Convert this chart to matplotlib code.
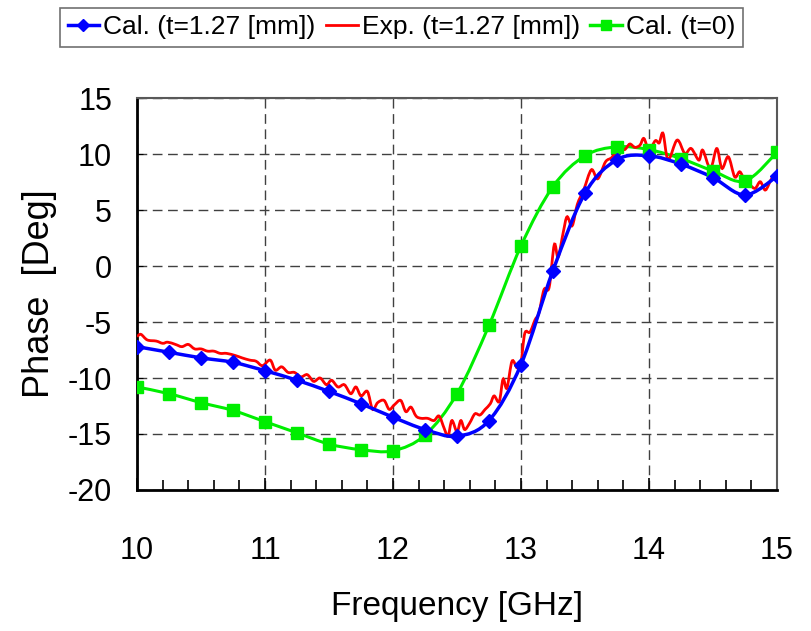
import matplotlib
matplotlib.use('Agg')
import matplotlib.pyplot as plt
from matplotlib.path import Path
from matplotlib.patches import PathPatch
from matplotlib.lines import Line2D
from matplotlib.ticker import MultipleLocator

# ---- data ----
freq_cal = [10.0, 10.25, 10.5, 10.75, 11.0, 11.25, 11.5, 11.75, 12.0, 12.25, 12.5,
            12.75, 13.0, 13.25, 13.5, 13.75, 14.0, 14.25, 14.5, 14.75, 15.0]
phase_cal = [-7.2, -7.7, -8.2, -8.6, -9.35, -10.2, -11.2, -12.3, -13.5, -14.6, -15.2,
             -13.8, -8.8, -0.4, 6.5, 9.5, 9.85, 9.1, 7.9, 6.35, 8.0]
phase_cal0 = [-10.8, -11.4, -12.2, -12.9, -13.9, -14.9, -15.9, -16.4, -16.5, -15.1, -11.4,
              -5.3, 1.8, 7.1, 9.85, 10.65, 10.4, 9.6, 8.5, 7.6, 10.15]

freq_exp = [10.00, 10.03, 10.08, 10.15, 10.20, 10.24, 10.30, 10.35, 10.40, 10.45,
            10.50, 10.55, 10.60, 10.65, 10.70, 10.77, 10.82, 10.88, 10.93, 10.98,
            11.04, 11.08, 11.13, 11.18, 11.23, 11.28, 11.33, 11.38, 11.43, 11.48,
            11.52, 11.57, 11.62, 11.67, 11.71, 11.75, 11.80, 11.84, 11.88, 11.93,
            11.97, 12.01, 12.06, 12.10, 12.14, 12.18, 12.22, 12.27, 12.32, 12.36,
            12.40, 12.43, 12.46, 12.50, 12.53, 12.56, 12.60, 12.64, 12.68, 12.72,
            12.76, 12.79, 12.83, 12.86, 12.89, 12.93, 12.97, 13.00, 13.03, 13.07,
            13.11, 13.14, 13.18, 13.22, 13.26, 13.29, 13.33, 13.36, 13.40, 13.44,
            13.49, 13.55, 13.60, 13.66, 13.71, 13.77, 13.81, 13.85, 13.89, 13.93,
            13.96, 14.00, 14.05, 14.08, 14.11, 14.15, 14.22, 14.28, 14.33, 14.39,
            14.42, 14.48, 14.53, 14.57, 14.62, 14.67, 14.71, 14.75, 14.79, 14.83,
            14.87, 14.91, 14.96, 15.00]
phase_exp = [-6.3, -6.1, -6.6, -6.7, -6.9, -6.8, -7.0, -7.2, -7.0, -7.4,
             -7.4, -7.6, -7.6, -7.8, -7.8, -8.0, -8.2, -8.4, -8.5, -8.9,
             -8.4, -9.3, -9.0, -9.5, -9.5, -9.9, -9.7, -10.3, -10.0, -10.6,
             -10.2, -10.8, -10.6, -11.4, -10.8, -11.6, -11.2, -12.8, -12.2, -12.0,
             -12.8, -12.4, -12.0, -13.0, -12.6, -13.4, -13.6, -13.6, -13.8, -13.4,
             -14.5, -15.2, -13.8, -14.8, -13.8, -14.6, -14.0, -13.2, -13.3, -12.8,
             -12.3, -11.6, -12.1, -10.1, -10.9, -8.5, -9.1, -8.6, -6.0, -5.9,
             -4.8, -4.2, -2.1, -1.9, 1.9, 0.8, 3.0, 4.4, 3.6, 5.5,
             6.8, 8.6, 7.8, 9.3, 9.7, 10.6, 10.4, 10.9, 10.6, 10.8,
             11.4, 10.4, 11.2, 11.0, 11.85, 9.5, 11.25, 10.06, 10.5, 9.46,
             10.35, 8.72, 10.5, 8.72, 9.76, 7.97, 8.42, 7.6, 7.23, 6.94,
             7.53, 6.79, 7.83, 8.0]

labels = ['Cal. (t=1.27 [mm])', 'Exp. (t=1.27 [mm])', 'Cal. (t=0)']

plt.rcParams['font.family'] = ['Liberation Sans', 'DejaVu Sans']
plt.rcParams['axes.unicode_minus'] = False


def smooth_path(xs, ys):
    # bezier through the points, like the excel "smoothed line"
    verts = [(xs[0], ys[0])]
    codes = [Path.MOVETO]
    n = len(xs)
    for i in range(n - 1):
        x0, y0 = xs[max(i - 1, 0)], ys[max(i - 1, 0)]
        x1, y1 = xs[i], ys[i]
        x2, y2 = xs[i + 1], ys[i + 1]
        x3, y3 = xs[min(i + 2, n - 1)], ys[min(i + 2, n - 1)]
        c1 = (x1 + (x2 - x0) / 6.0, y1 + (y2 - y0) / 6.0)
        c2 = (x2 - (x3 - x1) / 6.0, y2 - (y3 - y1) / 6.0)
        verts += [c1, c2, (x2, y2)]
        codes += [Path.CURVE4] * 3
    return Path(verts, codes)


fig = plt.figure(figsize=(8.11, 6.31), dpi=100)
ax = fig.add_axes([0.169, 0.2235, 0.789, 0.621])

blue = '#0000ff'
red = '#ff0000'
green = '#00ee00'

ax.add_patch(PathPatch(smooth_path(freq_cal, phase_cal0), fill=False, ec=green, lw=2.2, zorder=3))
ax.add_patch(PathPatch(smooth_path(freq_exp, phase_exp), fill=False, ec=red, lw=2.0, zorder=4))
ax.add_patch(PathPatch(smooth_path(freq_cal, phase_cal), fill=False, ec=blue, lw=2.5, zorder=5))
ax.plot(freq_cal, phase_cal0, ls='none', marker='s', ms=8, color=green, zorder=6)
ax.plot(freq_cal, phase_cal, ls='none', marker='D', ms=7.5, color=blue, zorder=7)

ax.set_xlim(10, 15)
ax.set_ylim(-20, 15)
ax.xaxis.set_major_locator(MultipleLocator(1))
ax.xaxis.set_minor_locator(MultipleLocator(0.2))
ax.yaxis.set_major_locator(MultipleLocator(5))

ax.grid(True, which='major', ls=(0, (7, 4)), color='0.25', lw=1.0)
ax.set_axisbelow(True)

ax.tick_params(axis='x', which='major', direction='in', length=9, width=1.2, pad=33, labelsize=22)
ax.tick_params(axis='x', which='minor', direction='in', length=7, width=1.2)
ax.tick_params(axis='y', which='major', direction='in', length=4, pad=18, labelsize=22)

for s in ['left', 'bottom']:
    ax.spines[s].set_linewidth(2)
    ax.spines[s].set_color('black')
for s in ['top', 'right']:
    ax.spines[s].set_linewidth(1.5)
    ax.spines[s].set_color('0.35')

ax.set_xlabel('Frequency [GHz]', fontsize=24, labelpad=18)
ax.set_ylabel('Phase  [Deg]', fontsize=26, labelpad=8)

handles = [Line2D([], [], color=blue, lw=2.5, marker='D', ms=6),
           Line2D([], [], color=red, lw=2),
           Line2D([], [], color=green, lw=2.5, marker='s', ms=7)]
leg = fig.legend(handles, labels, loc='upper center', bbox_to_anchor=(0.495, 0.988),
                 ncol=3, fontsize=19, frameon=True, fancybox=False, edgecolor='0.3',
                 handlelength=1.2, handletextpad=0.15, columnspacing=0.4,
                 borderpad=0.3, borderaxespad=0)
leg.get_frame().set_linewidth(1.2)

plt.savefig('out.png', dpi=100)
